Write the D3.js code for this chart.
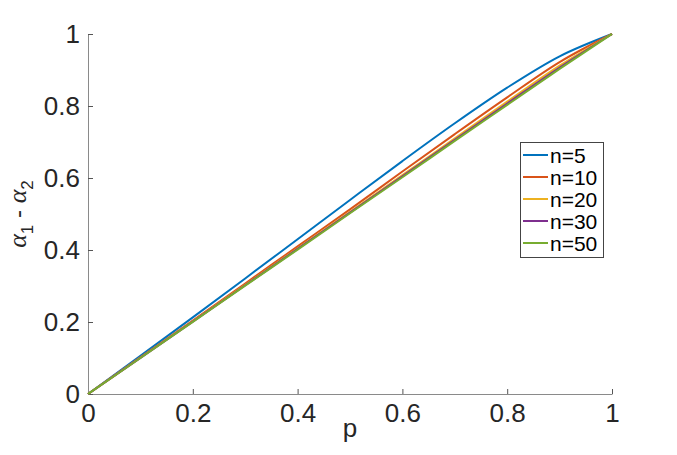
<!DOCTYPE html>
<html>
<head>
<meta charset="utf-8">
<script src="https://cdn.jsdelivr.net/npm/d3@7"></script>
<style>
  body { margin: 0; background: #fff; }
  svg { font-family: "Liberation Sans", Arial, sans-serif; }
</style>
</head>
<body>
<div id="chart"></div>
<script>
// values
var pValues = [0, 0.1, 0.2, 0.3, 0.4, 0.5, 0.6, 0.7, 0.8, 0.9, 1];
var n5  = [0, 0.106, 0.213, 0.321, 0.430, 0.539, 0.647, 0.752, 0.851, 0.938, 1];
var n10 = [0, 0.102, 0.204, 0.307, 0.410, 0.513, 0.618, 0.722, 0.824, 0.922, 1];
var n20 = [0, 0.101, 0.202, 0.303, 0.405, 0.506, 0.608, 0.710, 0.812, 0.912, 1];
var n30 = [0, 0.1005, 0.201, 0.302, 0.403, 0.504, 0.605, 0.706, 0.807, 0.907, 1];
var n50 = [0, 0.100, 0.2005, 0.301, 0.401, 0.502, 0.602, 0.703, 0.803, 0.903, 1];
var seriesNames = ["n=5", "n=10", "n=20", "n=30", "n=50"];
var seriesColors = ["#0072BD", "#D95319", "#EDB120", "#7E2F8E", "#77AC30"];
var xTicks = [0, 0.2, 0.4, 0.6, 0.8, 1];
var yTicks = [0, 0.2, 0.4, 0.6, 0.8, 1];

var allSeries = [n5, n10, n20, n30, n50];

var margin = {top: 34, right: 65, bottom: 61, left: 88},
    width = 677 - margin.left - margin.right,
    height = 455 - margin.top - margin.bottom;

var svg = d3.select("#chart")
    .append("svg")
    .attr("width", 677)
    .attr("height", 455)
    .append("g")
    .attr("transform", "translate(" + margin.left + "," + margin.top + ")");

var x = d3.scaleLinear().domain([0, 1]).range([0, width]);
var y = d3.scaleLinear().domain([0, 1]).range([height, 0]);

var fmt = function (d) { return d3.format("~g")(d); };

// x axis, ticks pointing inward
var xAxis = svg.append("g")
    .attr("transform", "translate(0," + height + ")")
    .call(d3.axisBottom(x).tickValues(xTicks).tickFormat(fmt)
        .tickSizeInner(-5).tickSizeOuter(0).tickPadding(10));

// y axis
var yAxis = svg.append("g")
    .call(d3.axisLeft(y).tickValues(yTicks).tickFormat(fmt)
        .tickSizeInner(-5).tickSizeOuter(0).tickPadding(8));

[xAxis, yAxis].forEach(function (a) {
    a.select(".domain").attr("stroke", "#8a8a8a").attr("stroke-width", 1);
    a.selectAll(".tick line").attr("stroke", "#555");
    a.selectAll(".tick text")
        .attr("fill", "#262626")
        .style("font-size", "26px")
        .style("font-family", "'Liberation Sans', Arial, sans-serif");
});

// curves
var line = d3.line()
    .x(function (d, i) { return x(pValues[i]); })
    .y(function (d) { return y(d); })
    .curve(d3.curveMonotoneX);

svg.append("g")
    .selectAll("path")
    .data(allSeries)
    .enter()
    .append("path")
    .attr("fill", "none")
    .attr("stroke", function (d, i) { return seriesColors[i]; })
    .attr("stroke-width", 2)
    .attr("d", line);

// x label
svg.append("text")
    .attr("x", width / 2)
    .attr("y", height + 43)
    .attr("text-anchor", "middle")
    .attr("fill", "#262626")
    .style("font-size", "26px")
    .text("p");

// y label: alpha_1 - alpha_2
var yl = svg.append("text")
    .attr("transform", "translate(" + (26 - margin.left) + "," + (height / 2) + ") rotate(-90)")
    .attr("text-anchor", "middle")
    .attr("fill", "#262626")
    .style("font-size", "24px");
yl.append("tspan").style("font-style", "italic").style("font-family", "'Liberation Serif', serif").style("font-size", "26px").text("\u03b1");
yl.append("tspan").attr("dy", 7).style("font-size", "17px").text("1");
yl.append("tspan").attr("dy", -7).text(" - ");
yl.append("tspan").style("font-style", "italic").style("font-family", "'Liberation Serif', serif").style("font-size", "26px").text("\u03b1");
yl.append("tspan").attr("dy", 7).style("font-size", "17px").text("2");

// legend
var legend = svg.append("g")
    .attr("transform", "translate(" + (520 - margin.left) + "," + (142 - margin.top) + ")");

legend.append("rect")
    .attr("x", 0.5)
    .attr("y", 0.5)
    .attr("width", 83)
    .attr("height", 115)
    .attr("fill", "#fff")
    .attr("stroke", "#444")
    .attr("stroke-width", 1);

var rows = legend.selectAll(".row")
    .data(seriesNames)
    .enter()
    .append("g")
    .attr("transform", function (d, i) { return "translate(0," + (13 + i * 22) + ")"; });

rows.append("line")
    .attr("x1", 3)
    .attr("x2", 28)
    .attr("stroke", function (d, i) { return seriesColors[i]; })
    .attr("stroke-width", 2);

rows.append("text")
    .attr("x", 30)
    .attr("y", 7.5)
    .attr("fill", "#000")
    .style("font-size", "21px")
    .text(function (d) { return d; });
</script>
</body>
</html>
